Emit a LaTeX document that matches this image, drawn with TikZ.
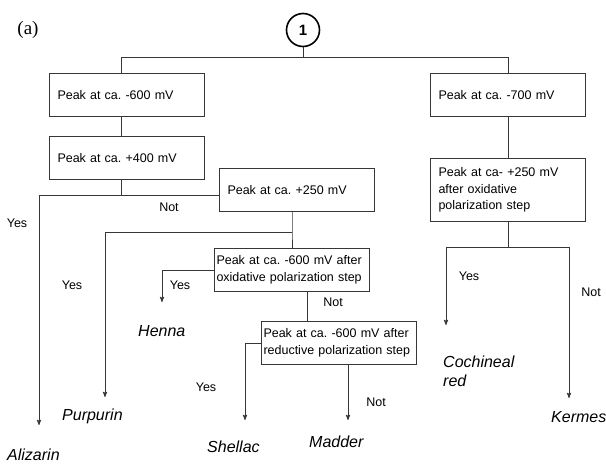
\documentclass[tikz,border=0pt]{standalone}
\usepackage{fontspec}
\setmainfont{Liberation Sans}
\newfontfamily\panelfont{Liberation Serif}
\frenchspacing
\usepackage{tikz}
\usetikzlibrary{arrows, positioning, shapes.geometric}
\definecolor{flowline}{RGB}{55,55,55}
\tikzset{>=stealth', thick,
    box/.style={draw=flowline, line width=1pt, anchor=north west, align=left,
        text width=139pt, inner xsep=8pt, inner ysep=0pt, minimum height=43pt,
        font=\fontsize{12.5}{16.5}\selectfont},
    widebox/.style={box, text width=151pt, inner xsep=2pt},
    start/.style={circle, draw, line width=1.6pt, minimum size=33pt, inner sep=0pt,
        font=\fontsize{15}{15}\selectfont\bfseries},
    answer/.style={inner sep=0pt, font=\fontsize{12.5}{15}\selectfont},
    dye/.style={inner sep=0pt, anchor=base west, font=\fontsize{16}{19}\selectfont\itshape},
    wire/.style={draw=flowline, line width=0.9pt},
    arrowwire/.style={wire, ->}}

\begin{document}
\begin{tikzpicture}[x=1pt, y=-1pt]
\useasboundingbox (0,0) rectangle (606,464);

\node[inner sep=0pt, font=\panelfont\fontsize{19}{19}\selectfont] (panel) at (28,30) {(a)};
\node[start]    (one)    at (303,30)  {1};

% left column
\node[box]      (peakA)  at (49,73)   {Peak at ca. -600 mV};
\node[box]      (peakB)  at (49,136)  {Peak at ca. +400 mV};
\node[box]      (peakC)  at (219,168) {Peak at ca. +250 mV};
\node[widebox]  (peakD)  at (214,248) {Peak at ca. -600 mV after\\oxidative polarization step};
\node[widebox]  (peakE)  at (261,321) {Peak at ca. -600 mV after\\reductive polarization step};

% right column
\node[box]      (peakF)  at (430,73)  {Peak at ca. -700 mV};
\node[box, minimum height=63pt] (peakG) at (430,158) {Peak at ca- +250 mV\\after oxidative\\polarization step};

\coordinate (split) at (303,57);
\coordinate (forkB) at (121,195);
\coordinate (forkC) at (292,232);
\coordinate (forkG) at (508,247);

\coordinate (tipAliz) at (39,425);
\coordinate (tipPurp) at (105,397);
\coordinate (tipHenna) at (162,302);
\coordinate (tipShel) at (245,420);
\coordinate (tipMadd) at (348,420);
\coordinate (tipCoch) at (446,325);
\coordinate (tipKerm) at (569,398);

% dyes
\node[dye] (alizarin) at (7,460)   {Alizarin};
\node[dye] (purpurin) at (62,420)  {Purpurin};
\node[dye] (henna)    at (138,336) {Henna};
\node[dye] (shellac)  at (207,452) {Shellac};
\node[dye] (madder)   at (309,447) {Madder};
\node[dye, anchor=north west, align=left] (cochineal) at (443,356) {Cochineal\\red};
\node[dye] (kermes)   at (551,422) {Kermes};

% answers
\node[answer] (notC)  at (169,207) {Not};
\node[answer] (yesA)  at (17,223)  {Yes};
\node[answer] (yesP)  at (72,285)  {Yes};
\node[answer] (yesH)  at (180,285) {Yes};
\node[answer] (notD)  at (333,302) {Not};
\node[answer] (yesS)  at (206,387) {Yes};
\node[answer] (notM)  at (376,402) {Not};
\node[answer] (yesCo) at (469,276) {Yes};
\node[answer] (notK)  at (591,292) {Not};

\draw[wire] (one) -- (split);
\draw[wire] (split) -| (forkB |- peakA.north);
\draw[wire] (split) -| (peakF.north);
\draw[wire] (forkB |- peakA.south) -- (forkB |- peakB.north);
\draw[wire] (forkB |- peakB.south) -- (forkB);
\draw[arrowwire] (peakC.west |- forkB) -| (tipAliz);
\draw[wire] (forkC |- peakC.south) -- (forkC) -- (forkC |- peakD.north);
\draw[arrowwire] (forkC) -| (tipPurp);
\draw[arrowwire] (peakD.west) -| (tipHenna);
\draw[wire] ([xshift=15pt]peakD.south) -- ([xshift=15pt]peakD.south |- peakE.north);
\draw[arrowwire] (peakE.west) -| (tipShel);
\draw[arrowwire] (tipMadd |- peakE.south) -- (tipMadd);
\draw[wire] (peakF.south) -- (peakG.north);
\draw[wire] (peakG.south) -- (forkG);
\draw[arrowwire] (forkG) -| (tipCoch);
\draw[arrowwire] (forkG) -| (tipKerm);
\end{tikzpicture}
\end{document}
